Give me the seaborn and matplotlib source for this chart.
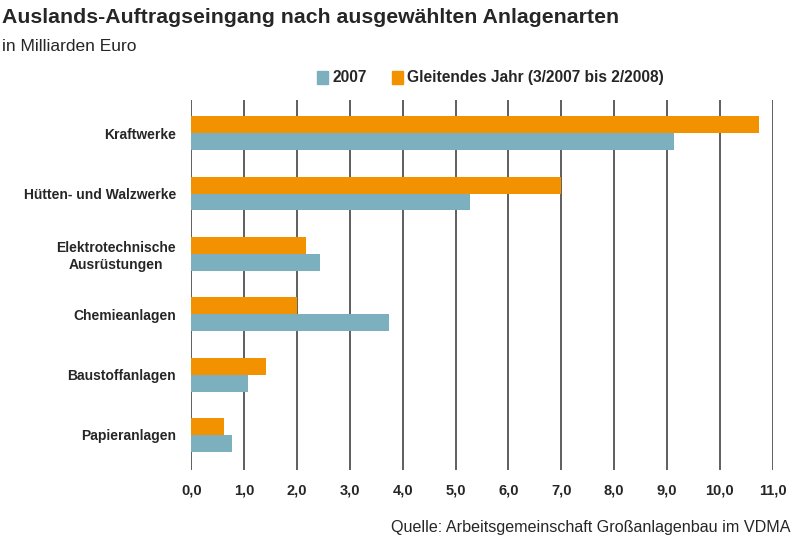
import pandas as pd
import matplotlib.pyplot as plt
import seaborn as sns
from matplotlib.patches import Patch
from matplotlib.ticker import FuncFormatter

sns.set_style('white')
plt.rcParams['font.family'] = ['Liberation Sans', 'DejaVu Sans']

# Data (in Milliarden Euro)
categories = ['Kraftwerke', 'Hütten- und Walzwerke', 'Elektrotechnische\nAusrüstungen',
              'Chemieanlagen', 'Baustoffanlagen', 'Papieranlagen']
values_2007 = [9.14, 5.28, 2.44, 3.75, 1.08, 0.77]
values_gleitend = [10.74, 7.0, 2.18, 2.01, 1.42, 0.62]
series_names = ['2007', 'Gleitendes Jahr (3/2007 bis 2/2008)']
colors = {'2007': '#7DB0BF', 'Gleitendes Jahr (3/2007 bis 2/2008)': '#F39200'}

df = pd.DataFrame({
    'Anlage': categories * 2,
    'Wert': values_2007 + values_gleitend,
    'Serie': [series_names[0]] * len(categories) + [series_names[1]] * len(categories),
})

fig = plt.figure(figsize=(8, 5.45), dpi=100)
ax = fig.add_axes([0.239, 0.1376, 0.727, 0.679])

sns.barplot(data=df, y='Anlage', x='Wert', hue='Serie', order=categories,
            hue_order=[series_names[1], series_names[0]], palette=colors,
            orient='h', width=0.56, saturation=1, linewidth=0, ax=ax, legend=False)

ax.set_xlim(0, 11)
ax.set_ylim(len(categories) - 0.42, -0.55)
ax.set_xticks(range(0, 12))
ax.xaxis.set_major_formatter(FuncFormatter(lambda v, p: f"{v:.1f}".replace('.', ',')))
ax.grid(axis='x', color='#333333', linewidth=1.1)
ax.set_axisbelow(True)
for s in ax.spines.values():
    s.set_visible(False)
ax.tick_params(axis='x', length=0, pad=10)
ax.tick_params(axis='y', length=0, pad=11)
ax.set_xlabel('')
ax.set_ylabel('')
for lab in ax.get_xticklabels():
    lab.set_fontweight('bold')
    lab.set_fontsize(10.5)
for lab in ax.get_yticklabels():
    lab.set_fontweight('bold')
    lab.set_fontsize(10)
    lab.set_multialignment('center')

# Title and subtitle
fig.text(0.003, 0.968, 'Auslands-Auftragseingang nach ausgewählten Anlagenarten',
         fontsize=15.3, fontweight='bold', va='center', ha='left')
fig.text(0.003, 0.915, 'in Milliarden Euro', fontsize=12.5, va='center', ha='left')

# Legend
handles = [Patch(color=colors[n], label=n) for n in series_names]
leg = fig.legend(handles=handles, loc='center', bbox_to_anchor=(0.613, 0.857), ncol=2,
                 frameon=False, handlelength=0.7, handleheight=0.9, handletextpad=0.3,
                 columnspacing=1.6, prop={'weight': 'bold', 'size': 11.2})

# Source
fig.text(0.988, 0.033, 'Quelle: Arbeitsgemeinschaft Großanlagenbau im VDMA',
         fontsize=11.6, ha='right', va='center')

fig.savefig('out.png', dpi=100)
